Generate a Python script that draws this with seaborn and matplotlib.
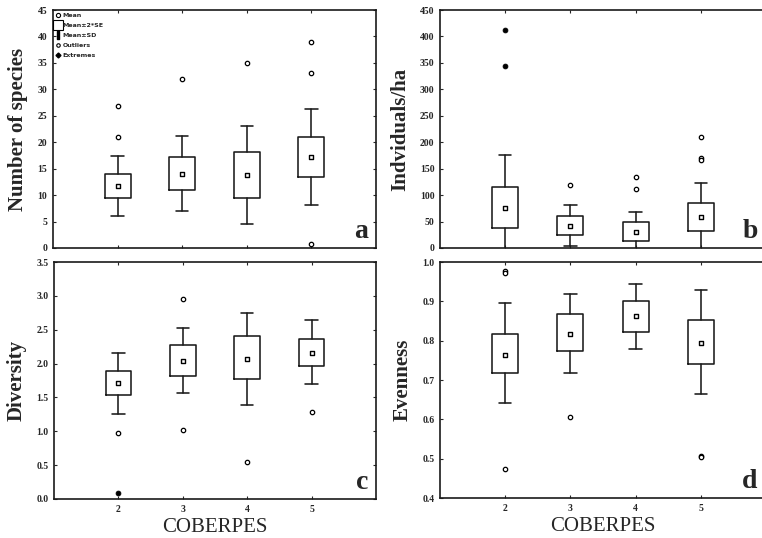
import numpy as np
import pandas as pd
import matplotlib
matplotlib.use("Agg")
import matplotlib.pyplot as plt
import seaborn as sns
from matplotlib.lines import Line2D

# ---------------- data ----------------
groups = [2, 3, 4, 5]

# a: Number of species
species_mean = [11.8, 13.9, 13.8, 17.2]
species_se_lo = [9.5, 11.0, 9.5, 13.4]
species_se_hi = [14.0, 17.2, 18.2, 21.0]
species_sd_lo = [6.0, 7.0, 4.6, 8.2]
species_sd_hi = [17.4, 21.1, 23.1, 26.3]
species_out_x = [2, 2, 3, 4, 5, 5, 5]
species_out_y = [26.8, 20.9, 32.0, 35.0, 39.0, 33.1, 0.8]
species_ext_x = []
species_ext_y = []

# b: Individuals/ha
indiv_mean = [75.5, 42.5, 30.5, 59.5]
indiv_se_lo = [38, 25, 14, 33]
indiv_se_hi = [115, 60, 49, 85.5]
indiv_sd_lo = [-25, 3.5, -7, -3]
indiv_sd_hi = [176, 80.5, 68, 122]
indiv_out_x = [3, 4, 4, 5, 5, 5]
indiv_out_y = [118.5, 135, 112, 209, 171, 167]
indiv_ext_x = [2, 2]
indiv_ext_y = [413, 345]

# c: Diversity
div_mean = [1.71, 2.04, 2.07, 2.16]
div_se_lo = [1.54, 1.816, 1.767, 1.965]
div_se_hi = [1.895, 2.27, 2.405, 2.37]
div_sd_lo = [1.257, 1.57, 1.39, 1.70]
div_sd_hi = [2.16, 2.52, 2.754, 2.64]
div_out_x = [2, 3, 3, 4, 5]
div_out_y = [0.98, 2.96, 1.02, 0.55, 1.29]
div_ext_x = [2]
div_ext_y = [0.088]

# d: Evenness
even_mean = [0.764, 0.818, 0.862, 0.795]
even_se_lo = [0.717, 0.774, 0.823, 0.740]
even_se_hi = [0.817, 0.867, 0.902, 0.852]
even_sd_lo = [0.641, 0.717, 0.780, 0.665]
even_sd_hi = [0.895, 0.919, 0.944, 0.929]
even_out_x = [2, 2, 2, 3, 5, 5]
even_out_y = [0.976, 0.972, 0.474, 0.605, 0.506, 0.503]
even_ext_x = []
even_ext_y = []

# ---------------- style ----------------
sns.set_style("ticks")
plt.rcParams['font.family'] = ['Liberation Serif', 'DejaVu Serif']
plt.rcParams['axes.linewidth'] = 1.1

W, H = 762, 538
fig = plt.figure(figsize=(W / 100, H / 100), dpi=100)

def px_axes(left, top, right, bottom):
    return fig.add_axes([left / W, 1 - bottom / H, (right - left) / W, (bottom - top) / H])

panels = [
    dict(rect=(53, 10, 376, 248), mean=species_mean, se_lo=species_se_lo, se_hi=species_se_hi,
         sd_lo=species_sd_lo, sd_hi=species_sd_hi, ox=species_out_x, oy=species_out_y,
         ex=species_ext_x, ey=species_ext_y, ylim=(0, 45), yticks=np.arange(0, 46, 5),
         fmt="{:.0f}", ylabel="Number of species", letter="a", xlab=False),
    dict(rect=(440, 10, 766, 248), mean=indiv_mean, se_lo=indiv_se_lo, se_hi=indiv_se_hi,
         sd_lo=indiv_sd_lo, sd_hi=indiv_sd_hi, ox=indiv_out_x, oy=indiv_out_y,
         ex=indiv_ext_x, ey=indiv_ext_y, ylim=(0, 450), yticks=np.arange(0, 451, 50),
         fmt="{:.0f}", ylabel="Indviduals/ha", letter="b", xlab=False),
    dict(rect=(54, 262, 376, 499), mean=div_mean, se_lo=div_se_lo, se_hi=div_se_hi,
         sd_lo=div_sd_lo, sd_hi=div_sd_hi, ox=div_out_x, oy=div_out_y,
         ex=div_ext_x, ey=div_ext_y, ylim=(0, 3.5), yticks=np.arange(0, 3.51, 0.5),
         fmt="{:.1f}", ylabel="Diversity", letter="c", xlab=True),
    dict(rect=(440, 262, 766, 498), mean=even_mean, se_lo=even_se_lo, se_hi=even_se_hi,
         sd_lo=even_sd_lo, sd_hi=even_sd_hi, ox=even_out_x, oy=even_out_y,
         ex=even_ext_x, ey=even_ext_y, ylim=(0.4, 1.0), yticks=np.arange(0.4, 1.001, 0.1),
         fmt="{:.1f}", ylabel="Evenness", letter="d", xlab=True),
]

lc = "#1a1a1a"
for p in panels:
    ax = px_axes(*p["rect"])
    stats = []
    for i, g in enumerate(groups):
        stats.append(dict(med=p["mean"][i], q1=p["se_lo"][i], q3=p["se_hi"][i],
                          whislo=p["sd_lo"][i], whishi=p["sd_hi"][i], fliers=[]))
    ax.bxp(stats, positions=groups, widths=0.4, capwidths=0.19, showfliers=False,
           patch_artist=False,
           boxprops=dict(color=lc, linewidth=1.15),
           whiskerprops=dict(color=lc, linewidth=1.15),
           capprops=dict(color=lc, linewidth=1.15),
           medianprops=dict(linewidth=0))
    mdf = pd.DataFrame({"g": groups, "v": p["mean"]})
    sns.scatterplot(data=mdf, x="g", y="v", marker="s", s=12, facecolor="white",
                    edgecolor="black", linewidth=1.0, ax=ax, zorder=4)
    if p["ox"]:
        odf = pd.DataFrame({"g": p["ox"], "v": p["oy"]})
        sns.scatterplot(data=odf, x="g", y="v", marker="o", s=10, facecolor="white",
                        edgecolor="black", linewidth=0.9, ax=ax, zorder=4)
    if p["ex"]:
        edf = pd.DataFrame({"g": p["ex"], "v": p["ey"]})
        sns.scatterplot(data=edf, x="g", y="v", marker="o", s=12, color="black",
                        edgecolor="black", linewidth=0.6, ax=ax, zorder=4)
    ax.set_xlim(1, 6)
    ax.set_ylim(*p["ylim"])
    ax.set_yticks(p["yticks"])
    ax.set_yticklabels([p["fmt"].format(v) for v in p["yticks"]])
    ax.set_xticks(groups)
    ax.set_xticklabels([str(g) for g in groups] if p["xlab"] else [])
    ax.tick_params(direction="in", length=2.5, width=0.8, top=True, right=True,
                   labelsize=7, pad=4)
    for t in ax.get_yticklabels() + ax.get_xticklabels():
        t.set_fontweight("bold")
    for s in ax.spines.values():
        s.set_visible(True)
        s.set_color(lc)
        s.set_linewidth(1.2)
    ax.set_ylabel(p["ylabel"], fontsize=15, fontweight="bold", labelpad=7)
    if p["xlab"]:
        ax.set_xlabel("COBERPES", fontsize=15, labelpad=3)
    else:
        ax.set_xlabel("")
    ax.text(0.975, 0.015, p["letter"], transform=ax.transAxes, ha="right", va="bottom",
            fontsize=20, fontweight="bold")
    if p["letter"] == "a":
        handles = [
            Line2D([], [], marker="o", linestyle="none", markersize=3, markerfacecolor="white",
                   markeredgecolor="black", markeredgewidth=0.8),
            Line2D([], [], marker="s", linestyle="none", markersize=6.5, markerfacecolor="white",
                   markeredgecolor="black", markeredgewidth=0.8),
            Line2D([], [], marker="$\\mathrm{I}$", linestyle="none", markersize=6,
                   color="black"),
            Line2D([], [], marker="o", linestyle="none", markersize=2.5, markerfacecolor="white",
                   markeredgecolor="black", markeredgewidth=0.8),
            Line2D([], [], marker="D", linestyle="none", markersize=2.5, color="black"),
        ]
        labels = ["Mean", "Mean\u00b12*SE", "Mean\u00b1SD", "Outliers", "Extremes"]
        ax.legend(handles, labels, loc="upper left", frameon=False,
                  prop=dict(family="DejaVu Sans", size=4.5, weight="bold"),
                  handlelength=0.8, handletextpad=0.3, labelspacing=0.75,
                  borderaxespad=0.2, borderpad=0.2)

fig.savefig("out.png", dpi=100)
